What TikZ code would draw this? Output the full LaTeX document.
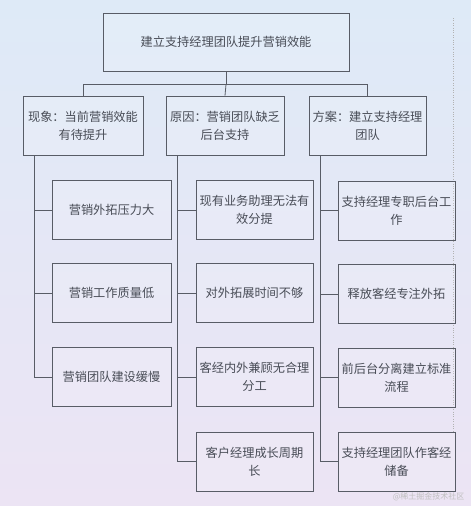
\documentclass[tikz,border=0pt]{standalone}
\usepackage{fontspec}
\setmainfont{Noto Sans CJK SC}
\usetikzlibrary{calc}
\definecolor{linegray}{RGB}{88, 92, 102}
\definecolor{textgray}{RGB}{72, 76, 86}
\definecolor{bgtop}{RGB}{222, 234, 247}
\definecolor{bgbot}{RGB}{236, 228, 244}

\tikzset{
  box/.style={draw=linegray, line width=0.8pt, fill=white, fill opacity=0.15, text opacity=1,
    text=textgray, align=center, inner sep=0pt, minimum width=118, minimum height=59,
    font=\fontsize{12.2}{18}\selectfont},
  link/.style={draw=linegray, line width=0.8pt},
}

\begin{document}
\begin{tikzpicture}[x=1pt, y=-1pt]
% Background
\shade[top color=bgtop, bottom color=bgbot] (0,0) rectangle (471,506);
\useasboundingbox (0,0) rectangle (471,506);
\draw[dotted, gray!60] (453,18) -- (453,432);

% Goal
\node[box, minimum width=246, minimum height=58] (goal) at (226,42) {建立支持经理团队提升营销效能};

% Level 2
\node[box, minimum width=120] (xianxiang) at (83,125.5) {现象：当前营销效能\\有待提升};
\node[box] (yuanyin) at (225,125.5) {原因：营销团队缺乏\\后台支持};
\node[box, minimum width=117] (fangan) at (367.5,125.5) {方案：建立支持经理\\团队};

% Bus
\draw[link] (goal.south) -- ++(0,13) coordinate (bus);
\draw[link] (bus) -| (xianxiang.north);
\draw[link] (bus) -| (fangan.north);
\draw[link] (bus) -- (yuanyin.north);

% Column (a): phenomena
\foreach \n/\y/\t in {1/210/营销外拓压力大, 2/293/营销工作质量低, 3/377/营销团队建设缓慢} {
    \node[box, minimum width=119] (xx\n) at (111.5,\y) {\t};
    \draw[link] ($(xianxiang.south west)+(12,0)$) |- (xx\n.west);
}

% Column (b): causes
\foreach \n/\y/\t in {1/210/{现有业务助理无法有\\效分提}, 2/293/对外拓展时间不够,
    3/377/{客经内外兼顾无合理\\分工}, 4/461.5/{客户经理成长周期\\长}} {
    \node[box, minimum width=117] (yy\n) at (254.5,\y) {\t};
    \draw[link] ($(yuanyin.south west)+(12,0)$) |- (yy\n.west);
}

% Column (c): plan
\foreach \n/\y/\t in {1/210.5/{支持经理专职后台工\\作}, 2/294/释放客经专注外拓,
    3/377.5/{前后台分离建立标准\\流程}, 4/461.5/{支持经理团队作客经\\储备}} {
    \node[box, minimum width=117] (fa\n) at (396.5,\y) {\t};
    \draw[link] ($(fangan.south west)+(12,0)$) |- (fa\n.west);
}

% Watermark
\node[anchor=east, font=\fontsize{8}{8}\selectfont, text=white!50!gray] (mark) at (468,497) {@稀土掘金技术社区};
\end{tikzpicture}
\end{document}
